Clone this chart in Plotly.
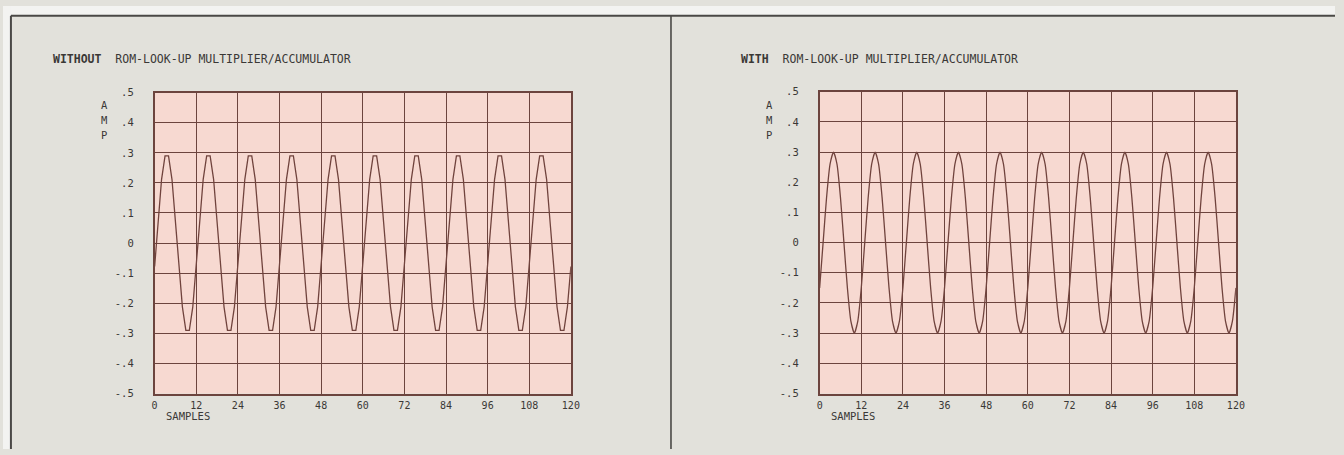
import plotly.graph_objects as go

# Sample index (x axis) and the two recorded waveforms, one value per sample
samples = list(range(0, 121))

amp_without = [
    -0.078, 0.078, 0.212, 0.290, 0.290, 0.212, 0.078, -0.078, -0.212, -0.290, -0.290, -0.212,
    -0.078, 0.078, 0.212, 0.290, 0.290, 0.212, 0.078, -0.078, -0.212, -0.290, -0.290, -0.212,
    -0.078, 0.078, 0.212, 0.290, 0.290, 0.212, 0.078, -0.078, -0.212, -0.290, -0.290, -0.212,
    -0.078, 0.078, 0.212, 0.290, 0.290, 0.212, 0.078, -0.078, -0.212, -0.290, -0.290, -0.212,
    -0.078, 0.078, 0.212, 0.290, 0.290, 0.212, 0.078, -0.078, -0.212, -0.290, -0.290, -0.212,
    -0.078, 0.078, 0.212, 0.290, 0.290, 0.212, 0.078, -0.078, -0.212, -0.290, -0.290, -0.212,
    -0.078, 0.078, 0.212, 0.290, 0.290, 0.212, 0.078, -0.078, -0.212, -0.290, -0.290, -0.212,
    -0.078, 0.078, 0.212, 0.290, 0.290, 0.212, 0.078, -0.078, -0.212, -0.290, -0.290, -0.212,
    -0.078, 0.078, 0.212, 0.290, 0.290, 0.212, 0.078, -0.078, -0.212, -0.290, -0.290, -0.212,
    -0.078, 0.078, 0.212, 0.290, 0.290, 0.212, 0.078, -0.078, -0.212, -0.290, -0.290, -0.212,
    -0.078,
]

amp_with = [
    -0.150, 0.000, 0.150, 0.260, 0.300, 0.260, 0.150, 0.000, -0.150, -0.260, -0.300, -0.260,
    -0.150, 0.000, 0.150, 0.260, 0.300, 0.260, 0.150, 0.000, -0.150, -0.260, -0.300, -0.260,
    -0.150, 0.000, 0.150, 0.260, 0.300, 0.260, 0.150, 0.000, -0.150, -0.260, -0.300, -0.260,
    -0.150, 0.000, 0.150, 0.260, 0.300, 0.260, 0.150, 0.000, -0.150, -0.260, -0.300, -0.260,
    -0.150, 0.000, 0.150, 0.260, 0.300, 0.260, 0.150, 0.000, -0.150, -0.260, -0.300, -0.260,
    -0.150, 0.000, 0.150, 0.260, 0.300, 0.260, 0.150, 0.000, -0.150, -0.260, -0.300, -0.260,
    -0.150, 0.000, 0.150, 0.260, 0.300, 0.260, 0.150, 0.000, -0.150, -0.260, -0.300, -0.260,
    -0.150, 0.000, 0.150, 0.260, 0.300, 0.260, 0.150, 0.000, -0.150, -0.260, -0.300, -0.260,
    -0.150, 0.000, 0.150, 0.260, 0.300, 0.260, 0.150, 0.000, -0.150, -0.260, -0.300, -0.260,
    -0.150, 0.000, 0.150, 0.260, 0.300, 0.260, 0.150, 0.000, -0.150, -0.260, -0.300, -0.260,
    -0.150,
]

x_tick_vals = [0, 12, 24, 36, 48, 60, 72, 84, 96, 108, 120]
x_tick_text = ["0", "12", "24", "36", "48", "60", "72", "84", "96", "108", "120"]
y_tick_vals = [0.5, 0.4, 0.3, 0.2, 0.1, 0.0, -0.1, -0.2, -0.3, -0.4, -0.5]
y_tick_text = [".5", ".4", ".3", ".2", ".1", "0", "-.1", "-.2", "-.3", "-.4", "-.5"]

panel_titles = [
    ("WITHOUT", "ROM-LOOK-UP MULTIPLIER/ACCUMULATOR"),
    ("WITH", "ROM-LOOK-UP MULTIPLIER/ACCUMULATOR"),
]

W, H = 1344, 455
PAPER = "#e2e1db"
PAGE = "#f3f3f1"
PLOT_BG = "#f7d9d1"
GRID = "#6c443e"
WAVE = "#70433d"
INK = "#3a3836"
RULE = "#4a4846"
FONT = "DejaVu Sans Mono"

def px_x(v):
    return v / W

def px_y(v):
    return 1 - v / H

fig = go.Figure()

fig.add_trace(go.Scatter(x=samples, y=amp_without, mode="lines",
                         line=dict(color=WAVE, width=1.3),
                         xaxis="x", yaxis="y", showlegend=False))
fig.add_trace(go.Scatter(x=samples, y=amp_with, mode="lines",
                         line=dict(color=WAVE, width=1.3, shape="spline", smoothing=0.6),
                         xaxis="x2", yaxis="y2", showlegend=False))

# plot box positions in pixels: (left, right, top, bottom)
boxes = [(153, 573, 89, 398), (824, 1244, 88, 398)]

axis_common_x = dict(range=[0, 120], tickvals=x_tick_vals, ticktext=x_tick_text,
                     showgrid=True, gridcolor=GRID, gridwidth=1.4,
                     showline=True, linecolor=GRID, linewidth=1.6, mirror=True,
                     zeroline=False, ticks="", ticklabelstandoff=2,
                     tickfont=dict(family=FONT, size=10, color=INK))
axis_common_y = dict(range=[-0.5, 0.5], tickvals=y_tick_vals, ticktext=y_tick_text,
                     showgrid=True, gridcolor=GRID, gridwidth=1.4,
                     showline=True, linecolor=GRID, linewidth=1.6, mirror=True,
                     zeroline=False, ticks="", ticklabelstandoff=17,
                     tickfont=dict(family=FONT, size=10.5, color=INK))

layout_axes = {}
for i, (l, r, t, b) in enumerate(boxes):
    sfx = "" if i == 0 else str(i + 1)
    layout_axes["xaxis" + sfx] = dict(axis_common_x, domain=[px_x(l), px_x(r)],
                                      anchor="y" + sfx)
    layout_axes["yaxis" + sfx] = dict(axis_common_y, domain=[px_y(b), px_y(t)],
                                      anchor="x" + sfx)

fig.update_layout(
    width=W, height=H,
    margin=dict(l=0, r=0, t=0, b=0),
    paper_bgcolor=PAPER,
    plot_bgcolor=PLOT_BG,
    **layout_axes,
)

shapes = [
    # page margin outside the frame
    dict(type="rect", xref="paper", yref="paper", x0=0, x1=1, y0=px_y(10), y1=1,
         fillcolor=PAGE, line=dict(width=0), layer="below"),
    dict(type="rect", xref="paper", yref="paper", x0=0, x1=px_x(8), y0=0, y1=1,
         fillcolor=PAGE, line=dict(width=0), layer="below"),
    # frame: top rule, left rule, centre divider
    dict(type="line", xref="paper", yref="paper", x0=px_x(8), x1=1, y0=px_y(10), y1=px_y(10),
         line=dict(color=RULE, width=2)),
    dict(type="line", xref="paper", yref="paper", x0=px_x(8), x1=px_x(8), y0=0, y1=px_y(10),
         line=dict(color=RULE, width=2)),
    dict(type="line", xref="paper", yref="paper", x0=px_x(674), x1=px_x(674), y0=0, y1=px_y(10),
         line=dict(color=RULE, width=1.6)),
]

annotations = []
title_left = [48, 743]
for i, ((bold, rest), (l, r, t, b)) in enumerate(zip(panel_titles, boxes)):
    annotations.append(dict(
        text="<b>" + bold + "</b>\u00a0\u00a0" + rest,
        xref="paper", yref="paper", x=px_x(title_left[i]), y=px_y(54),
        xanchor="left", yanchor="middle", showarrow=False,
        font=dict(family=FONT, size=11.5, color=INK)))
    for ch, yy in zip("AMP", [102, 117, 132]):
        annotations.append(dict(
            text=ch, xref="paper", yref="paper", x=px_x(l - 56), y=px_y(yy),
            xanchor="left", yanchor="middle", showarrow=False,
            font=dict(family=FONT, size=10.5, color=INK)))
    annotations.append(dict(
        text="SAMPLES", xref="paper", yref="paper", x=px_x(l + 9), y=px_y(421),
        xanchor="left", yanchor="middle", showarrow=False,
        font=dict(family=FONT, size=10.5, color=INK)))

fig.update_layout(shapes=shapes, annotations=annotations)

fig.write_html("out.html")
